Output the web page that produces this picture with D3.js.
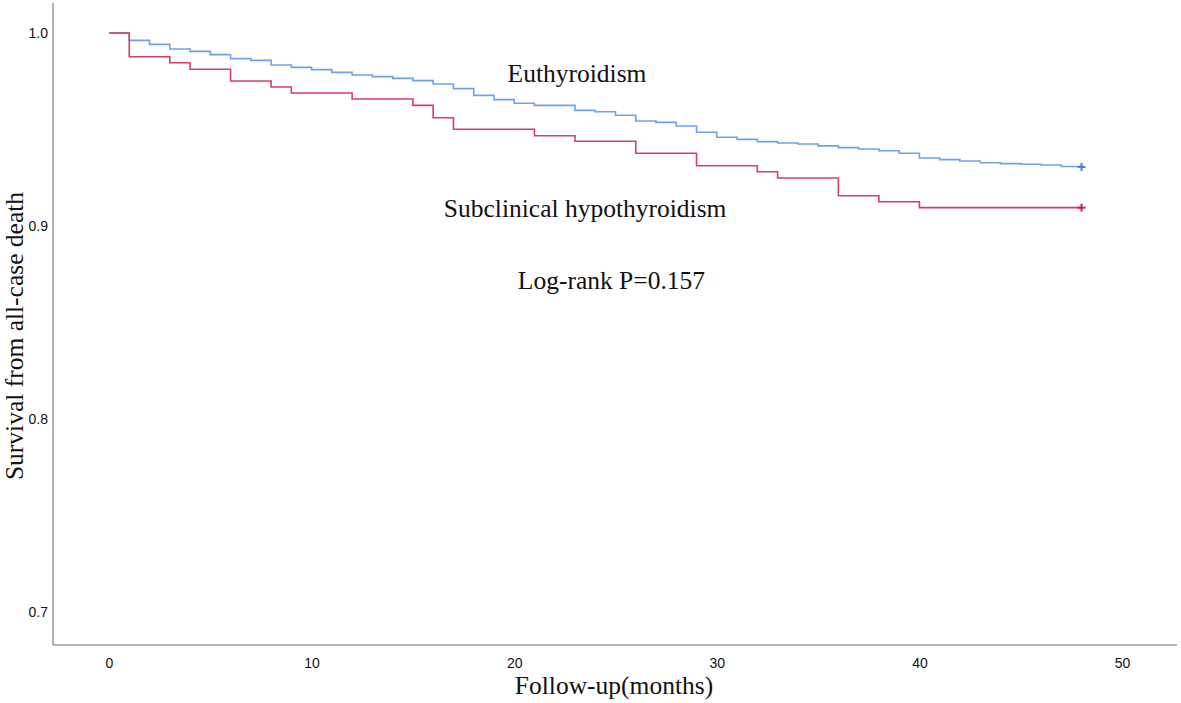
<!DOCTYPE html>
<html><head><meta charset="utf-8">
<script src="https://cdn.jsdelivr.net/npm/d3@7"></script>
<style>body{margin:0;background:#fff}svg{display:block}</style>
</head><body><svg id="c" width="1181" height="703"></svg>
<script>
// Kaplan-Meier step data: [month, survival]
const euthyroidism = [[0,1.0],[1,0.9962],[2,0.9941],[3,0.9917],[4,0.9905],[5,0.9888],[6,0.9867],[7,0.9858],[8,0.9834],[9,0.9822],[10,0.981],[11,0.9796],[12,0.9782],[13,0.9774],[14,0.9765],[15,0.9753],[16,0.9736],[17,0.9712],[18,0.9677],[19,0.9655],[20,0.9636],[21,0.9625],[23,0.9599],[24,0.9592],[25,0.9574],[26,0.9544],[27,0.9537],[28,0.9518],[29,0.9486],[30,0.946],[31,0.9449],[32,0.9437],[33,0.943],[34,0.9425],[35,0.9415],[36,0.9406],[37,0.9399],[38,0.939],[39,0.9377],[40,0.9352],[41,0.9344],[42,0.9337],[43,0.9328],[44,0.9323],[45,0.932],[46,0.9316],[47,0.9308],[48,0.9306]];
const subclinical = [[0,1.0],[1,0.9877],[3,0.9846],[4,0.9812],[6,0.9751],[8,0.972],[9,0.9689],[12,0.9658],[15,0.9625],[16,0.9561],[17,0.9501],[21,0.9468],[23,0.9439],[26,0.9377],[29,0.9312],[32,0.9281],[33,0.9249],[36,0.9157],[38,0.9126],[40,0.9095],[48,0.9095]];
const censorEu = [[48,0.9306]];
const censorSub = [[48,0.9095]];
const xTicks = [0,10,20,30,40,50];
const yTicks = [0.7,0.8,0.9,1.0];
const labels = [
  {text:"Euthyroidism", x:23.1, y:0.9745},
  {text:"Subclinical hypothyroidism", x:23.5, y:0.9045},
  {text:"Log-rank P=0.157", x:24.8, y:0.8672}
];

const svg = d3.select("#c");
const x = d3.scaleLinear().domain([0,48]).range([109,1081.5]);
const y = d3.scaleLinear().domain([0.7,1.0]).range([612,33]);
const axisX0 = 53, axisY0 = 645;

// axes lines
svg.append("line").attr("x1",axisX0).attr("x2",axisX0).attr("y1",3).attr("y2",axisY0)
  .attr("stroke","#9a9a9a").attr("stroke-width",1.5);
svg.append("line").attr("x1",axisX0).attr("x2",1177).attr("y1",axisY0).attr("y2",axisY0)
  .attr("stroke","#9a9a9a").attr("stroke-width",1.5);

// tick labels via axes (no tick marks / domain)
const gx = svg.append("g").attr("transform",`translate(0,${axisY0})`)
  .call(d3.axisBottom(x).tickValues(xTicks).tickSize(0).tickPadding(13).tickFormat(d3.format("d")));
gx.select(".domain").remove();
gx.selectAll("text").attr("font-family","Liberation Sans, Arial, sans-serif").attr("font-size",14).attr("fill","#111");
const gy = svg.append("g").attr("transform",`translate(${axisX0},0)`)
  .call(d3.axisLeft(y).tickValues(yTicks).tickSize(0).tickPadding(5).tickFormat(d3.format(".1f")));
gy.select(".domain").remove();
gy.selectAll("text").attr("font-family","Liberation Sans, Arial, sans-serif").attr("font-size",14).attr("fill","#111");

// step lines
const line = d3.line().x(d=>x(d[0])).y(d=>y(d[1])).curve(d3.curveStepAfter);
svg.append("path").datum(euthyroidism).attr("d",line).attr("fill","none")
  .attr("stroke","#6aa3ea").attr("stroke-width",1.6);
svg.append("path").datum(subclinical).attr("d",line).attr("fill","none")
  .attr("stroke","#dc3c62").attr("stroke-width",1.6);

// censor marks
function plus(data,color){
  data.forEach(d=>{
    const cx=x(d[0]), cy=y(d[1]);
    svg.append("line").attr("x1",cx-4).attr("x2",cx+4).attr("y1",cy).attr("y2",cy).attr("stroke",color).attr("stroke-width",2);
    svg.append("line").attr("x1",cx).attr("x2",cx).attr("y1",cy-4).attr("y2",cy+4).attr("stroke",color).attr("stroke-width",2);
  });
}
plus(censorEu,"#3d85e0");
plus(censorSub,"#d81c48");

// annotations
svg.selectAll("text.lab").data(labels).enter().append("text").attr("class","lab")
  .attr("x",d=>x(d.x)).attr("y",d=>y(d.y)).attr("text-anchor","middle")
  .attr("font-family","Liberation Serif, Times New Roman, serif").attr("font-size",25.5).attr("fill","#111")
  .text(d=>d.text);

// axis titles
svg.append("text").attr("x",614).attr("y",694).attr("text-anchor","middle")
  .attr("font-family","Liberation Serif, Times New Roman, serif").attr("font-size",25.5).attr("fill","#111")
  .text("Follow-up(months)");
svg.append("text").attr("transform","translate(23,336) rotate(-90)").attr("text-anchor","middle")
  .attr("font-family","Liberation Serif, Times New Roman, serif").attr("font-size",25.5).attr("fill","#111")
  .text("Survival from all-case death");
</script></body></html>
